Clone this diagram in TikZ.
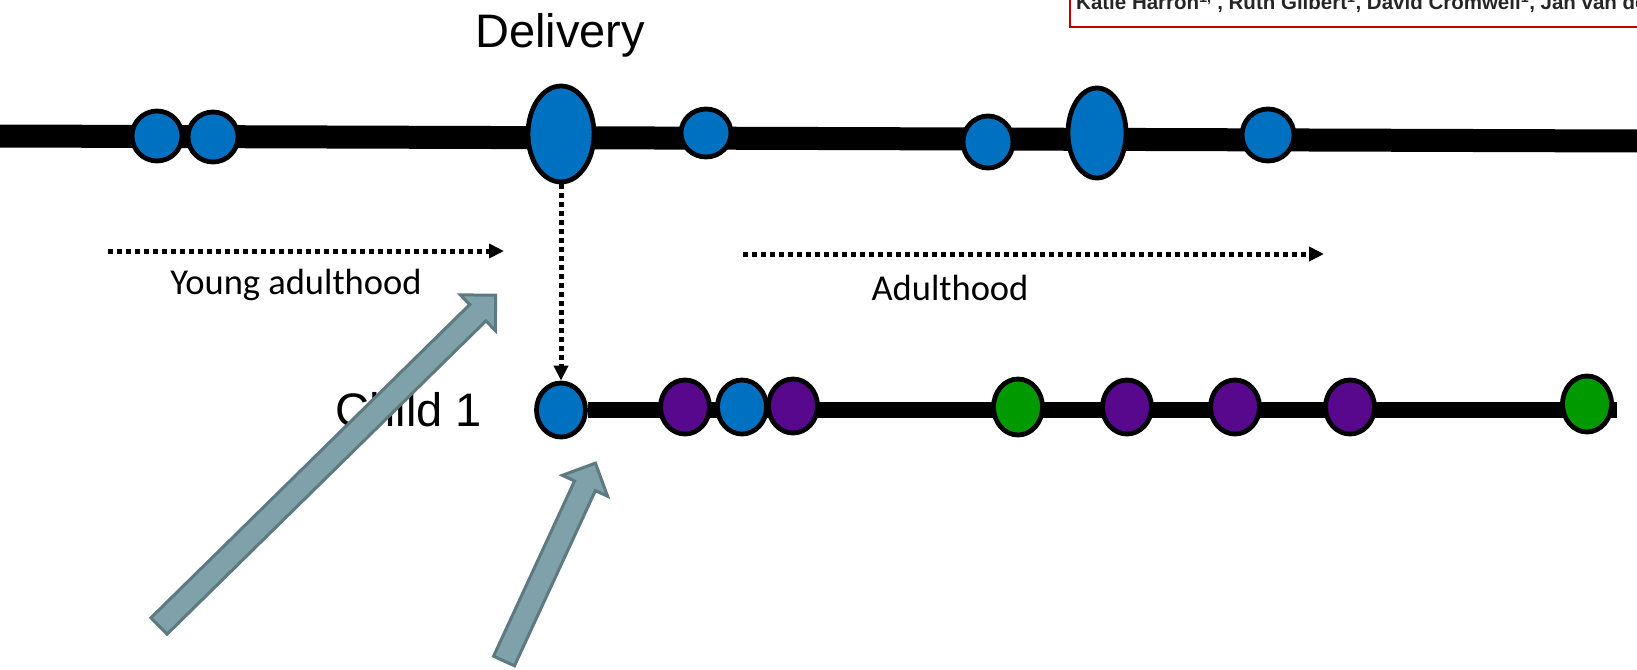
\documentclass[tikz,border=0pt]{standalone}
\usepackage{fontspec}
\setmainfont{Liberation Sans}
\newfontfamily\bodyfont{Carlito}
\usetikzlibrary{arrows.meta, shapes.geometric, backgrounds}
\definecolor{eventBlue}{HTML}{0070C0}
\definecolor{eventPurple}{HTML}{58088C}
\definecolor{eventGreen}{HTML}{009900}
\definecolor{calloutFill}{HTML}{7FA1A9}
\definecolor{calloutEdge}{HTML}{5E7A80}
\definecolor{headerRed}{HTML}{C00000}

\begin{document}
\begin{tikzpicture}[x=1pt, y=-1pt, >={Triangle[length=15pt, width=14pt]},
	event/.style={ellipse, draw=black, line width=4.8pt, inner sep=0pt},
	timeline/.style={line width=23pt},
	childline/.style={line width=16pt},
	period/.style={->, line width=5pt, dash pattern=on 5pt off 4pt},
	callout/.style={fill=calloutFill, draw=calloutEdge, line width=3pt, line join=miter}]
	
	\useasboundingbox (0,0) rectangle (1637,669);
	
	% --- 1. Mother's timeline ---
	\coordinate (topStart) at (0,136);
	\coordinate (topEnd) at (1637,141);
	\draw[timeline] (topStart) -- (topEnd);
	
	% events on the mother's record: name/x/y/width/height
	\foreach \n/\x/\y/\w/\h in {t1/157/136/50/50, t2/213/137/50/50, deliv/561/134/66/96,
		t3/706/133/50/48, t4/988/142/50/52, t5/1097/133/58/90, t6/1268/135/52/52} {
		\node[event, fill=eventBlue, minimum width=\w pt, minimum height=\h pt] (\n) at (\x,\y) {};
	}
	
	\node[anchor=base, font=\fontsize{47}{50}\selectfont] (delivLabel) at (560,48) {Delivery};
	
	% --- 2. Child's timeline ---
	\foreach \n/\x/\y/\col/\h in {c1/561/410/eventBlue/54, c2/685/407/eventPurple/54,
		c3/742/407/eventBlue/54, c4/793/406/eventPurple/54, c5/1018/407/eventGreen/56,
		c6/1127/407/eventPurple/54, c7/1235/407/eventPurple/54, c8/1350/407/eventPurple/54,
		c9/1587/404/eventGreen/56} {
		\node[event, fill=\col, minimum width=49pt, minimum height=\h pt] (\n) at (\x,\y) {};
	}
	\coordinate (childEnd) at (1617,410);
	\begin{pgfonlayer}{background}
		\draw[childline] (c1) -- (childEnd);
	\end{pgfonlayer}
	
	\node[anchor=base, font=\fontsize{47}{50}\selectfont] (childLabel) at (409,426) {Child 1};
	
	% --- 3. Periods and linkage ---
	\coordinate (youngStart) at (108,251);
	\coordinate (youngEnd) at (504,251);
	\coordinate (adultStart) at (743,254);
	\coordinate (adultEnd) at (1324,254);
	\draw[period] (youngStart) -- (youngEnd);
	\draw[period] (adultStart) -- (adultEnd);
	\draw[period] (deliv.south) -- (c1.north);
	
	\node[anchor=base, font=\bodyfont\fontsize{36.5}{40}\selectfont] (youngLabel) at (296,294) {Young adulthood};
	\node[anchor=base, font=\bodyfont\fontsize{36.5}{40}\selectfont] (adultLabel) at (950,300) {Adulthood};
	
	% --- 4. Block arrows: tail x/y, angle, length ---
	\foreach \tx/\ty/\ang/\len in {159/626/44.5/472, 504/661/65.2/218} {
		\begin{scope}[shift={(\tx,\ty)}, rotate=\ang]
			\draw[callout] (0,-11.5) -- ({\len-25},-11.5) -- ({\len-25},-25) -- (\len,0)
			-- ({\len-25},25) -- ({\len-25},11.5) -- (0,11.5) -- cycle;
		\end{scope}
	}
	
	% --- 5. Author header, cut by the page edge ---
	\begin{scope}
		\clip (0,0) rectangle (1637,669);
		\node[anchor=base west, inner sep=0pt, text=black!85,
		font=\bfseries\fontsize{20.5}{22}\selectfont] (authors) at (1076,10)
		{Katie Harron\textsuperscript{1,*}, Ruth Gilbert\textsuperscript{1}, David Cromwell\textsuperscript{1}, Jan van der Meulen\textsuperscript{1}};
		\draw[headerRed, line width=2.5pt] (1070,-20) rectangle (1660,27);
	\end{scope}
	
\end{tikzpicture}
\end{document}
